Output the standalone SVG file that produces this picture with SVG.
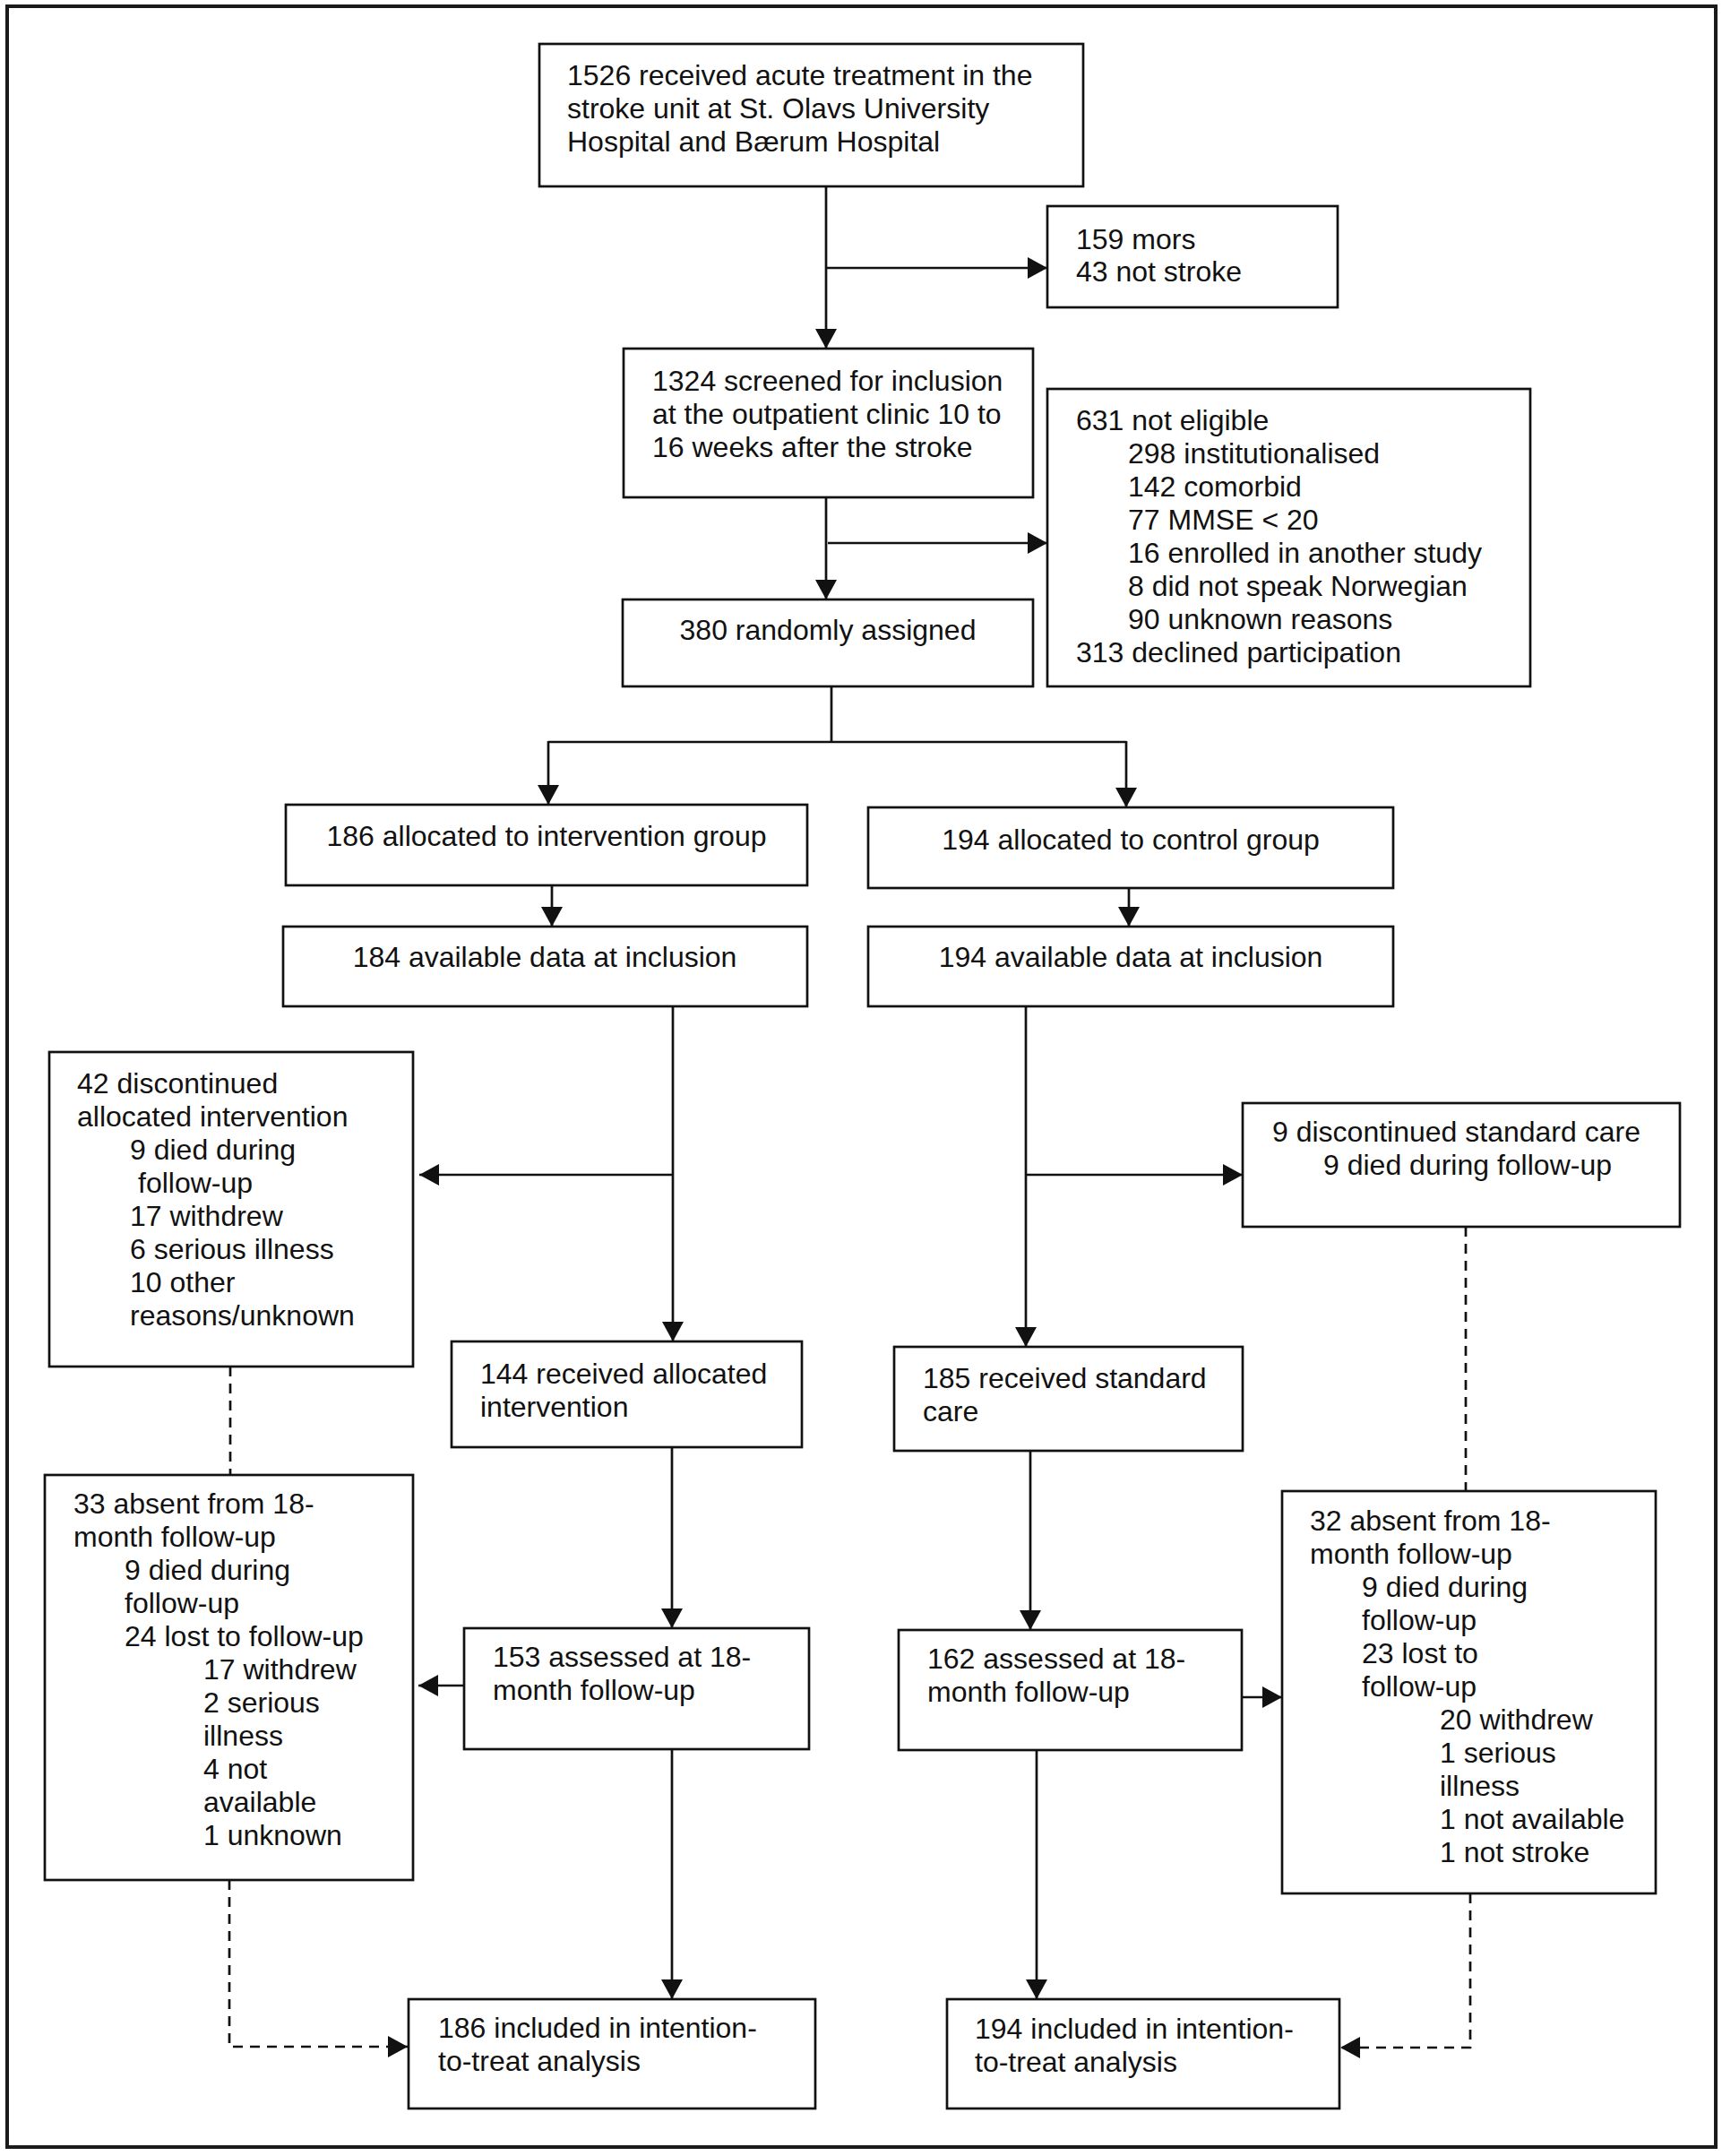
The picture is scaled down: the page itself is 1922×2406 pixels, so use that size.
<svg xmlns="http://www.w3.org/2000/svg" width="1922" height="2406" viewBox="0 0 1922 2406">
<style>
.bx{fill:#fff;stroke:#111;stroke-width:2.7}
.t{font-family:"Liberation Sans",Arial,sans-serif;font-size:32px;fill:#111}
.c{text-anchor:middle}
.ln{fill:none;stroke:#111;stroke-width:2.7}
.ar{marker-end:url(#ah)}
.d{stroke-dasharray:11 8}
</style>
<defs>
<marker id="ah" markerUnits="userSpaceOnUse" markerWidth="24" markerHeight="24" refX="22" refY="12" orient="auto">
<path d="M0,0 L22,12 L0,24 z" fill="#111"/>
</marker>
</defs>
<rect x="0" y="0" width="1922" height="2406" fill="#fff"/>
<rect x="8" y="7" width="1907" height="2389" fill="none" stroke="#1a1a1a" stroke-width="4"/>

<g id="connectors">
<line class="ln ar" x1="922" y1="208" x2="922" y2="389"/>
<line class="ln ar" x1="922" y1="299" x2="1169" y2="299"/>
<line class="ln ar" x1="922" y1="555" x2="922" y2="669"/>
<line class="ln ar" x1="924" y1="606" x2="1169" y2="606"/>
<polyline class="ln" points="928,766 928,828"/>
<polyline class="ln" points="612,828 1257,828"/>
<line class="ln ar" x1="612" y1="827" x2="612" y2="898"/>
<line class="ln ar" x1="1257" y1="827" x2="1257" y2="901"/>
<line class="ln ar" x1="616" y1="988" x2="616" y2="1034"/>
<line class="ln ar" x1="1260" y1="991" x2="1260" y2="1034"/>
<line class="ln ar" x1="751" y1="1123" x2="751" y2="1497"/>
<line class="ln ar" x1="751" y1="1311" x2="468" y2="1311"/>
<line class="ln ar" x1="1145" y1="1123" x2="1145" y2="1503"/>
<line class="ln ar" x1="1145" y1="1311" x2="1387" y2="1311"/>
<line class="ln d" x1="257" y1="1525" x2="257" y2="1646"/>
<line class="ln d" x1="1636" y1="1369" x2="1636" y2="1664"/>
<line class="ln ar" x1="750" y1="1615" x2="750" y2="1817"/>
<line class="ln ar" x1="1150" y1="1619" x2="1150" y2="1819"/>
<line class="ln ar" x1="518" y1="1881" x2="467" y2="1881"/>
<line class="ln ar" x1="1386" y1="1894" x2="1431" y2="1894"/>
<line class="ln ar" x1="750" y1="1952" x2="750" y2="2231"/>
<line class="ln ar" x1="1157" y1="1953" x2="1157" y2="2231"/>
<polyline class="ln d ar" points="256,2098 256,2284 455,2284"/>
<polyline class="ln d ar" points="1641,2113 1641,2285 1496,2285"/>
</g>

<g id="n1">
<rect class="bx" x="602" y="49" width="607" height="159"/>
<text class="t" x="633" y="95">1526 received acute treatment in the</text>
<text class="t" x="633" y="132">stroke unit at St. Olavs University</text>
<text class="t" x="633" y="169">Hospital and Bærum Hospital</text>
</g>
<g id="n_mors">
<rect class="bx" x="1169" y="230" width="324" height="113"/>
<text class="t" x="1201" y="278">159 mors</text>
<text class="t" x="1201" y="314">43 not stroke</text>
</g>
<g id="n2">
<rect class="bx" x="696" y="389" width="457" height="166"/>
<text class="t" x="728" y="436">1324 screened for inclusion</text>
<text class="t" x="728" y="473">at the outpatient clinic 10 to</text>
<text class="t" x="728" y="510">16 weeks after the stroke</text>
</g>
<g id="n_noteligible">
<rect class="bx" x="1169" y="434" width="539" height="332"/>
<text class="t" x="1201" y="480">631 not eligible</text>
<text class="t" x="1259" y="517">298 institutionalised</text>
<text class="t" x="1259" y="554">142 comorbid</text>
<text class="t" x="1259" y="591">77 MMSE &lt; 20</text>
<text class="t" x="1259" y="628">16 enrolled in another study</text>
<text class="t" x="1259" y="665">8 did not speak Norwegian</text>
<text class="t" x="1259" y="702">90 unknown reasons</text>
<text class="t" x="1201" y="739">313 declined participation</text>
</g>
<g id="n3">
<rect class="bx" x="695" y="669" width="458" height="97"/>
<text class="t c" x="924" y="714">380 randomly assigned</text>
</g>
<g id="n_int_alloc">
<rect class="bx" x="319" y="898" width="582" height="90"/>
<text class="t c" x="610" y="944">186 allocated to intervention group</text>
</g>
<g id="n_ctrl_alloc">
<rect class="bx" x="969" y="901" width="586" height="90"/>
<text class="t c" x="1262" y="948">194 allocated to control group</text>
</g>
<g id="n_int_avail">
<rect class="bx" x="316" y="1034" width="585" height="89"/>
<text class="t c" x="608" y="1079">184 available data at inclusion</text>
</g>
<g id="n_ctrl_avail">
<rect class="bx" x="969" y="1034" width="586" height="89"/>
<text class="t c" x="1262" y="1079">194 available data at inclusion</text>
</g>
<g id="n_int_disc">
<rect class="bx" x="55" y="1174" width="406" height="351"/>
<text class="t" x="86" y="1220">42 discontinued</text>
<text class="t" x="86" y="1257">allocated intervention</text>
<text class="t" x="145" y="1294">9 died during</text>
<text class="t" x="154" y="1331">follow-up</text>
<text class="t" x="145" y="1368">17 withdrew</text>
<text class="t" x="145" y="1405">6 serious illness</text>
<text class="t" x="145" y="1442">10 other</text>
<text class="t" x="145" y="1479">reasons/unknown</text>
</g>
<g id="n_ctrl_disc">
<rect class="bx" x="1387" y="1231" width="488" height="138"/>
<text class="t" x="1420" y="1274">9 discontinued standard care</text>
<text class="t" x="1477" y="1311">9 died during follow-up</text>
</g>
<g id="n_int_recv">
<rect class="bx" x="504" y="1497" width="391" height="118"/>
<text class="t" x="536" y="1544">144 received allocated</text>
<text class="t" x="536" y="1581">intervention</text>
</g>
<g id="n_ctrl_recv">
<rect class="bx" x="998" y="1503" width="389" height="116"/>
<text class="t" x="1030" y="1549">185 received standard</text>
<text class="t" x="1030" y="1586">care</text>
</g>
<g id="n_int_absent">
<rect class="bx" x="50" y="1646" width="411" height="452"/>
<text class="t" x="82" y="1689">33 absent from 18-</text>
<text class="t" x="82" y="1726">month follow-up</text>
<text class="t" x="139" y="1763">9 died during</text>
<text class="t" x="139" y="1800">follow-up</text>
<text class="t" x="139" y="1837">24 lost to follow-up</text>
<text class="t" x="227" y="1874">17 withdrew</text>
<text class="t" x="227" y="1911">2 serious</text>
<text class="t" x="227" y="1948">illness</text>
<text class="t" x="227" y="1985">4 not</text>
<text class="t" x="227" y="2022">available</text>
<text class="t" x="227" y="2059">1 unknown</text>
</g>
<g id="n_int_assess">
<rect class="bx" x="518" y="1817" width="385" height="135"/>
<text class="t" x="550" y="1860">153 assessed at 18-</text>
<text class="t" x="550" y="1897">month follow-up</text>
</g>
<g id="n_ctrl_assess">
<rect class="bx" x="1003" y="1819" width="383" height="134"/>
<text class="t" x="1035" y="1862">162 assessed at 18-</text>
<text class="t" x="1035" y="1899">month follow-up</text>
</g>
<g id="n_ctrl_absent">
<rect class="bx" x="1431" y="1664" width="417" height="449"/>
<text class="t" x="1462" y="1708">32 absent from 18-</text>
<text class="t" x="1462" y="1745">month follow-up</text>
<text class="t" x="1520" y="1782">9 died during</text>
<text class="t" x="1520" y="1819">follow-up</text>
<text class="t" x="1520" y="1856">23 lost to</text>
<text class="t" x="1520" y="1893">follow-up</text>
<text class="t" x="1607" y="1930">20 withdrew</text>
<text class="t" x="1607" y="1967">1 serious</text>
<text class="t" x="1607" y="2004">illness</text>
<text class="t" x="1607" y="2041">1 not available</text>
<text class="t" x="1607" y="2078">1 not stroke</text>
</g>
<g id="n_int_itt">
<rect class="bx" x="456" y="2231" width="454" height="122"/>
<text class="t" x="489" y="2274">186 included in intention-</text>
<text class="t" x="489" y="2311">to-treat analysis</text>
</g>
<g id="n_ctrl_itt">
<rect class="bx" x="1057" y="2231" width="438" height="122"/>
<text class="t" x="1088" y="2275">194 included in intention-</text>
<text class="t" x="1088" y="2312">to-treat analysis</text>
</g>
</svg>
